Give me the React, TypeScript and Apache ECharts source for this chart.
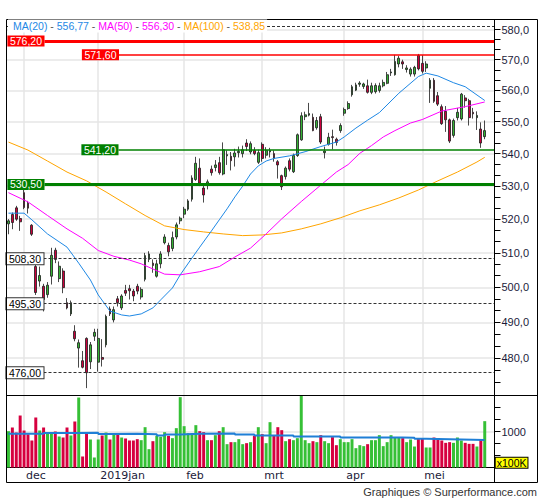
import React, { useEffect, useRef } from 'react';
import * as echarts from 'echarts';

// ---------- data ----------
// daily candles: [open, close, low, high]
const candles: number[][] = [
  [518.6,519.5,515.5,520.0],[521.4,519.0,517.0,522.0],[523.4,520.0,519.5,524.0],[520.2,519.2,516.5,521.0],[528.0,523.5,523.0,530.6],
  [524.8,523.3,521.7,525.5],[518.2,515.5,515.0,518.5],[506.0,498.5,497.8,506.5],[501.8,503.4,500.2,506.0],[500.3,496.5,493.1,501.0],
  [497.9,500.6,497.0,501.5],[503.2,509.3,500.8,511.5],[510.8,508.1,507.0,511.5],[502.5,506.1,501.5,507.5],[504.7,499.9,498.3,505.5],
  [495.6,494.1,493.7,496.9],[492.4,495.6,491.8,496.2],[487.5,485.4,484.7,489.2],[482.8,484.3,477.4,485.2],[479.3,477.5,477.2,482.0],
  [485.5,476.0,471.8,485.8],[479.0,483.7,477.0,484.5],[486.1,487.2,484.8,488.2],[478.9,485.5,476.3,488.2],[480.2,479.7,477.7,485.3],
  [483.7,491.7,483.0,492.2],[493.8,492.4,491.8,494.5],[490.7,493.6,490.0,494.5],[496.7,495.6,494.5,497.5],[494.1,497.5,493.5,498.0],
  [499.1,498.3,497.5,500.7],[499.6,499.0,496.5,500.7],[498.9,497.5,496.0,499.5],[500.3,498.9,498.0,501.0],[497.2,499.4,496.5,500.0],
  [502.3,509.2,501.7,510.0],[508.1,509.7,507.3,510.5],[507.0,506.3,504.2,508.1],[503.2,506.8,502.8,508.0],[506.8,509.7,505.5,510.5],
  [513.0,514.7,512.5,515.5],[512.2,510.3,509.0,513.0],[511.3,514.5,510.5,516.3],[514.7,518.3,514.0,519.0],[519.5,520.3,518.5,520.8],
  [521.5,523.0,520.3,523.7],[523.0,525.5,522.5,526.0],[526.0,532.5,525.3,533.3],[532.0,537.0,531.6,539.0],[535.5,530.9,530.0,538.5],
  [529.4,527.3,525.0,530.2],[530.4,531.3,529.0,532.0],[535.2,534.1,533.2,536.3],[535.7,536.5,534.5,538.0],[537.2,534.1,533.5,539.0],
  [533.7,541.2,533.3,543.5],[539.3,539.7,536.5,541.0],[539.2,537.8,534.8,540.5],[539.0,540.2,536.0,541.5],[540.3,540.7,538.8,542.2],
  [540.0,541.2,538.8,542.5],[543.3,542.2,540.8,544.5],[540.5,543.1,539.8,543.8],[541.0,540.0,539.5,542.0],[537.3,540.3,536.8,541.2],
  [542.9,538.5,537.5,543.5],[539.5,541.0,538.5,542.0],[540.5,541.0,538.8,541.8],[540.0,538.5,537.5,541.0],[537.5,536.5,532.3,538.0],
  [533.2,529.8,528.8,533.5],[532.9,535.5,532.0,536.0],[537.8,535.2,534.5,538.5],[534.4,539.4,534.0,540.0],[539.4,545.9,539.0,546.3],
  [544.3,551.9,544.0,553.0],[551.6,552.2,550.5,553.2],[552.1,552.6,551.7,556.0],[551.4,547.2,547.0,552.6],[548.1,550.4,547.5,551.5],
  [551.6,543.6,543.0,552.5],[540.3,540.8,538.5,542.2],[542.9,545.1,542.5,546.5],[545.3,545.0,541.3,547.5],[544.5,543.5,542.5,545.0],
  [547.2,548.8,546.5,549.5],[552.7,553.9,551.9,554.5],[554.2,555.8,553.8,556.5],[558.6,561.2,558.0,561.8],[560.1,561.8,559.8,562.5],
  [562.0,562.4,561.2,563.0],[561.3,562.1,560.5,562.5],[561.5,559.4,559.0,563.5],[559.4,561.5,558.8,562.5],[559.6,561.6,559.0,562.3],
  [560.0,561.5,559.3,562.5],[561.5,562.6,561.0,563.5],[562.3,565.1,562.0,566.0],[565.7,566.0,564.7,567.0],[565.1,569.4,564.8,571.6],
  [568.6,570.5,567.5,571.3],[569.3,568.6,567.0,570.0],[566.8,567.3,565.8,568.2],[565.3,566.9,564.5,567.5],[565.3,567.5,564.5,568.0],
  [571.4,567.0,566.5,571.9],[568.8,566.2,565.5,571.5],[567.3,568.6,566.0,569.5],[560.7,563.3,556.0,564.0],[563.3,556.5,556.0,564.0],
  [558.3,555.6,555.0,559.5],[554.8,549.4,549.0,555.5],[553.3,550.6,546.8,555.0],[550.6,543.9,543.3,551.0],[545.7,550.4,545.0,551.0],
  [551.3,553.0,550.4,554.4],[550.9,558.8,550.4,559.2],[557.6,556.7,554.5,558.5],[556.7,551.3,548.8,557.3],[553.0,552.5,551.0,554.4],
  [551.3,552.0,547.4,553.3],[547.7,543.3,541.8,549.8],[545.3,547.2,544.5,550.4],
];

// volume, x100K
const volumes: number[] = [
  1009,1111,972,1444,1028,926,750,1389,1028,1111,
  972,972,1000,861,833,1111,889,1278,1944,306,
  972,778,278,778,889,972,778,917,917,833,
  806,750,750,787,759,1120,509,731,880,852,
  981,880,815,1093,1954,1148,954,954,1176,1009,
  981,759,759,898,1009,1120,648,704,704,787,
  648,676,704,880,1120,926,676,1259,880,1120,
  1037,731,787,759,815,2050,759,676,731,704,
  898,731,676,843,620,787,704,704,787,537,
  620,593,648,759,759,898,593,704,898,843,
  843,815,704,778,583,796,796,556,556,833,
  796,750,685,704,685,833,750,685,657,657,
  583,778,1287,
];

// volume average (stepped), [day index, value]
const volumeAverage: number[][] = [
  [0,935],[9,955],[18,965],[23,930],[25,940],[33,926],[38,889],[40,917],[44,935],[49,944],
  [58,917],[63,889],[73,861],[85,833],[101,824],[104,796],[107,778],[116,765],[122,765],
];

// moving averages, [day index, value]
const ma20: number[][] = [
  [0,521.8],[4,521.8],[6,519.8],[10,515.6],[15,511.7],[18,507.0],[21,502.1],[23,497.8],[26,493.2],[29,492.1],
  [31,491.8],[34,492.4],[37,494.1],[39,496.4],[42,499.8],[44,503.6],[47,508.5],[49,511.7],[52,516.5],[54,519.8],
  [56,523.1],[58,526.7],[60,530.0],[62,533.7],[64,536.2],[66,537.7],[68,538.5],[72,539.3],[76,540.6],[80,542.2],
  [84,543.6],[86,545.2],[89,548.0],[92,550.5],[95,552.9],[100,559.1],[105,564.5],[107,565.6],[110,564.7],[114,562.5],
  [117,561.2],[122,556.77],
];
const ma50: number[][] = [
  [0,528.0],[5,525.2],[10,521.1],[15,517.1],[19,514.3],[23,510.7],[27,509.0],[31,507.9],[34,506.8],[40,503.8],
  [44,503.6],[49,504.5],[54,506.0],[58,508.8],[62,511.4],[66,515.6],[70,520.1],[75,525.3],[80,530.3],[84,534.3],
  [87,536.6],[90,540.1],[93,542.5],[96,545.2],[99,547.2],[103,549.6],[106,550.7],[111,553.4],[117,554.8],[122,556.30],
];
const ma100: number[][] = [
  [0,543.6],[5,541.1],[10,537.7],[15,534.3],[20,531.6],[25,528.2],[30,524.6],[35,521.1],[40,518.0],[45,516.9],
  [50,516.2],[55,515.6],[60,515.1],[65,515.3],[70,515.9],[75,517.1],[80,518.6],[85,520.4],[90,522.5],[95,524.3],
  [100,526.4],[105,528.8],[110,531.6],[115,534.3],[120,537.4],[122,538.85],
];

const priceTicks = [480, 490, 500, 510, 520, 530, 540, 550, 560, 570, 580];
const volumeTickLabels = [1000];
const monthStarts = [4, 23, 45, 65, 86, 106];
const monthNames = ['dec', '2019jan', 'feb', 'mrt', 'apr', 'mei'];
const levels = [581.17, 576.2, 571.6, 541.2, 530.5, 508.3, 495.3, 476.0];
const slotCount = 125; // 123 trading days + 2 empty slots on the right

// ---------- presentation ----------
const FONT = '"Liberation Sans", Arial, sans-serif';
const DATE_FONT = '"DejaVu Sans", Verdana, sans-serif';
const AXIS_TEXT = '#1b1b3a';
const L = 6.5, AX = 494.5, TOP = 19.5, SEP = 395.5, VBOT = 467.5, FR = 537.5, FB = 482.5;

const fmt = (v: number, d: number) => v.toFixed(d).replace('.', ',');

const redTag = { color: '#ffffff', backgroundColor: '#ff0000' };
const greenTag = { color: '#ffffff', backgroundColor: '#008000' };
const plainTag = { color: '#000000', backgroundColor: '#ffffff', borderColor: '#333333', borderWidth: 1 };
const dashed = { color: '#333333', width: 1, type: [3, 2] as any };
const levelLook: { line: any; start: number; tag: any }[] = [
  { line: dashed, start: 7, tag: null }, // its tag is hidden behind the legend
  { line: { color: '#ff0000', width: 3, type: 'solid' }, start: 44.5, tag: redTag },
  { line: { color: '#ff0000', width: 1.5, type: 'solid' }, start: 119, tag: redTag },
  { line: { color: '#008000', width: 1.5, type: 'solid' }, start: 118.5, tag: greenTag },
  { line: { color: '#008000', width: 3, type: 'solid' }, start: 44.5, tag: greenTag },
  { line: dashed, start: 43.5, tag: plainTag },
  { line: dashed, start: 43.5, tag: plainTag },
  { line: dashed, start: 43.5, tag: plainTag },
];

function buildOption(): any {
  const cats = Array.from({ length: slotCount }, (_, i) => String(i));
  const minorTicks: number[] = [];
  for (let k = 0; k <= 34; k++) minorTicks.push(470 + (k * 10) / 3);

  const last = (a: number[][]) => a[a.length - 1][1];
  const legendText =
    `{b|MA(20)}{s| - }{b|${fmt(last(ma20), 2)}}{s| - }` +
    `{m|MA(50)}{s| - }{m|${fmt(last(ma50), 2)}}{s| - }` +
    `{o|MA(100)}{s| - }{o|${fmt(last(ma100), 2)}}`;
  const rs = (fill: string) => ({ fill, fontSize: 10.5, fontFamily: FONT });

  const gridLine = { color: '#e6e6e6', width: 1.5, type: 'solid' };

  const levelData = levels.map((v, k) => {
    const look = levelLook[k];
    const label = look.tag
      ? {
          show: true,
          position: 'start',
          distance: 0,
          formatter: fmt(v, 2),
          padding: [0, 2.5],
          fontSize: 10.5,
          fontFamily: FONT,
          lineHeight: 11,
          ...look.tag,
        }
      : { show: false };
    return [
      { coord: [0, v], x: look.start, lineStyle: look.line, label },
      { coord: [0, v], x: AX },
    ];
  });

  return {
    animation: false,
    backgroundColor: '#ffffff',
    grid: [
      { left: L, top: TOP, width: AX - L, height: SEP - TOP, containLabel: false, outerBoundsMode: 'none' },
      { left: L, top: SEP, width: AX - L, height: VBOT - SEP, containLabel: false, outerBoundsMode: 'none' },
    ],
    xAxis: [
      { type: 'category', gridIndex: 0, data: cats, boundaryGap: true, show: false },
      {
        type: 'category',
        gridIndex: 1,
        data: cats,
        boundaryGap: true,
        axisLine: { show: true, lineStyle: { color: '#000', width: 1 } },
        axisTick: { show: false },
        splitLine: { show: false },
        axisLabel: {
          interval: (i: number) => monthStarts.indexOf(i) >= 0,
          formatter: (val: string) => {
            const k = monthStarts.indexOf(Number(val));
            return k >= 0 ? monthNames[k] : '';
          },
          align: 'left',
          padding: [0, 0, 0, 2],
          margin: 2,
          fontFamily: DATE_FONT,
          fontSize: 11,
          color: AXIS_TEXT,
        },
      },
    ],
    yAxis: [
      {
        type: 'log',
        logBase: 10,
        gridIndex: 0,
        position: 'right',
        min: 469.8,
        max: 583.35,
        axisLine: { show: true, lineStyle: { color: '#000', width: 1 } },
        axisTick: { show: true, length: 6, customValues: minorTicks, lineStyle: { color: '#000' } },
        axisLabel: {
          customValues: priceTicks,
          formatter: (v: number) => fmt(v, 1),
          margin: 7,
          fontFamily: FONT,
          fontSize: 11,
          color: AXIS_TEXT,
        },
        splitLine: { show: false },
      },
      {
        type: 'value',
        gridIndex: 1,
        position: 'right',
        min: 0,
        max: 2000,
        interval: 1000 / 3,
        axisLine: { show: true, lineStyle: { color: '#000', width: 1 } },
        axisTick: { show: true, length: 6, lineStyle: { color: '#000' } },
        axisLabel: {
          formatter: (v: number) => (volumeTickLabels.indexOf(Math.round(v)) >= 0 ? String(Math.round(v)) : ''),
          margin: 7,
          fontFamily: FONT,
          fontSize: 11,
          color: AXIS_TEXT,
        },
        splitLine: { show: false },
      },
    ],
    series: [
      {
        type: 'line',
        xAxisIndex: 0,
        yAxisIndex: 0,
        data: [],
        silent: true,
        markLine: {
          silent: true,
          z: 1,
          symbol: ['none', 'none'],
          label: { show: false },
          lineStyle: gridLine,
          data: [
            ...priceTicks.map((v) => ({ yAxis: v })),
            ...monthStarts.map((i) => ({ xAxis: i })),
          ],
        },
      },
      {
        type: 'line',
        xAxisIndex: 1,
        yAxisIndex: 1,
        data: [],
        silent: true,
        markLine: {
          silent: true,
          z: 1,
          symbol: ['none', 'none'],
          label: { show: false },
          lineStyle: gridLine,
          data: [
            ...volumeTickLabels.map((v) => ({ yAxis: v })),
            ...monthStarts.map((i) => ({ xAxis: i })),
          ],
        },
      },
      {
        type: 'candlestick',
        xAxisIndex: 0,
        yAxisIndex: 0,
        data: candles,
        barWidth: 2.3,
        z: 3,
        itemStyle: {
          color: '#35b335',
          color0: '#cc003d',
          borderColor: '#1a1a1a',
          borderColor0: '#1a1a1a',
          borderWidth: 0.8,
        },
      },
      {
        type: 'line',
        name: 'MA(100)',
        xAxisIndex: 0,
        yAxisIndex: 0,
        data: ma100,
        showSymbol: false,
        z: 4,
        lineStyle: { color: '#ffa500', width: 1 },
      },
      {
        type: 'line',
        name: 'MA(50)',
        xAxisIndex: 0,
        yAxisIndex: 0,
        data: ma50,
        showSymbol: false,
        z: 4,
        lineStyle: { color: '#ff00ff', width: 1 },
      },
      {
        type: 'line',
        name: 'MA(20)',
        xAxisIndex: 0,
        yAxisIndex: 0,
        data: ma20,
        showSymbol: false,
        z: 4,
        lineStyle: { color: '#1e88e5', width: 1 },
      },
      {
        type: 'line',
        xAxisIndex: 0,
        yAxisIndex: 0,
        data: [],
        silent: true,
        markLine: {
          silent: true,
          z: 6,
          symbol: ['none', 'none'],
          data: levelData,
        },
      },
      {
        type: 'bar',
        xAxisIndex: 1,
        yAxisIndex: 1,
        barWidth: '76%',
        z: 3,
        data: volumes.map((v, i) => ({
          value: v,
          itemStyle: { color: candles[i][1] >= candles[i][0] ? '#36c036' : '#d6003f' },
        })),
      },
      {
        type: 'line',
        xAxisIndex: 1,
        yAxisIndex: 1,
        step: 'end',
        data: volumeAverage,
        showSymbol: false,
        z: 4,
        lineStyle: { color: '#1f7fd6', width: 2 },
      },
    ],
    graphic: [
      {
        type: 'rect',
        z: 50,
        silent: true,
        shape: { x: L, y: TOP, width: FR - L, height: FB - TOP },
        style: { fill: 'none', stroke: '#000', lineWidth: 1 },
      },
      { type: 'line', z: 50, silent: true, shape: { x1: L, y1: SEP, x2: FR, y2: SEP }, style: { stroke: '#000', lineWidth: 1 } },
      { type: 'line', z: 50, silent: true, shape: { x1: AX, y1: TOP, x2: AX, y2: FB }, style: { stroke: '#000', lineWidth: 1 } },
      {
        type: 'text',
        z: 100,
        x: 8,
        y: 26,
        silent: true,
        style: {
          text: legendText,
          rich: { b: rs('#1e88e5'), m: rs('#ff00ff'), o: rs('#ffa500'), s: rs('#555555') },
          fontSize: 10.5,
          fontFamily: FONT,
          align: 'left',
          verticalAlign: 'middle',
          backgroundColor: '#ffffff',
          padding: [1, 2, 1, 5],
        },
      },
      {
        type: 'text',
        z: 100,
        x: 495.7,
        y: 457.7,
        silent: true,
        style: {
          text: 'x100K',
          fontSize: 10.5,
          fontFamily: FONT,
          fill: '#000',
          align: 'left',
          verticalAlign: 'top',
          lineHeight: 10,
          backgroundColor: '#ffff00',
          borderColor: '#000',
          borderWidth: 1,
          padding: [0, 1, 0, 1],
        },
      },
      {
        type: 'text',
        z: 100,
        x: 537,
        y: 491.5,
        silent: true,
        style: {
          text: 'Graphiques © Surperformance.com',
          fontSize: 11,
          fontFamily: FONT,
          fill: '#333333',
          align: 'right',
          verticalAlign: 'middle',
        },
      },
    ],
  };
}

export default function App() {
  const ref = useRef<HTMLDivElement>(null);
  useEffect(() => {
    if (!ref.current) return;
    const chart = echarts.init(ref.current, undefined, { renderer: 'svg' });
    chart.setOption(buildOption());
    return () => chart.dispose();
  }, []);
  return <div ref={ref} style={{ position: 'absolute', left: 0, top: 0, width: 545, height: 500 }} />;
}
